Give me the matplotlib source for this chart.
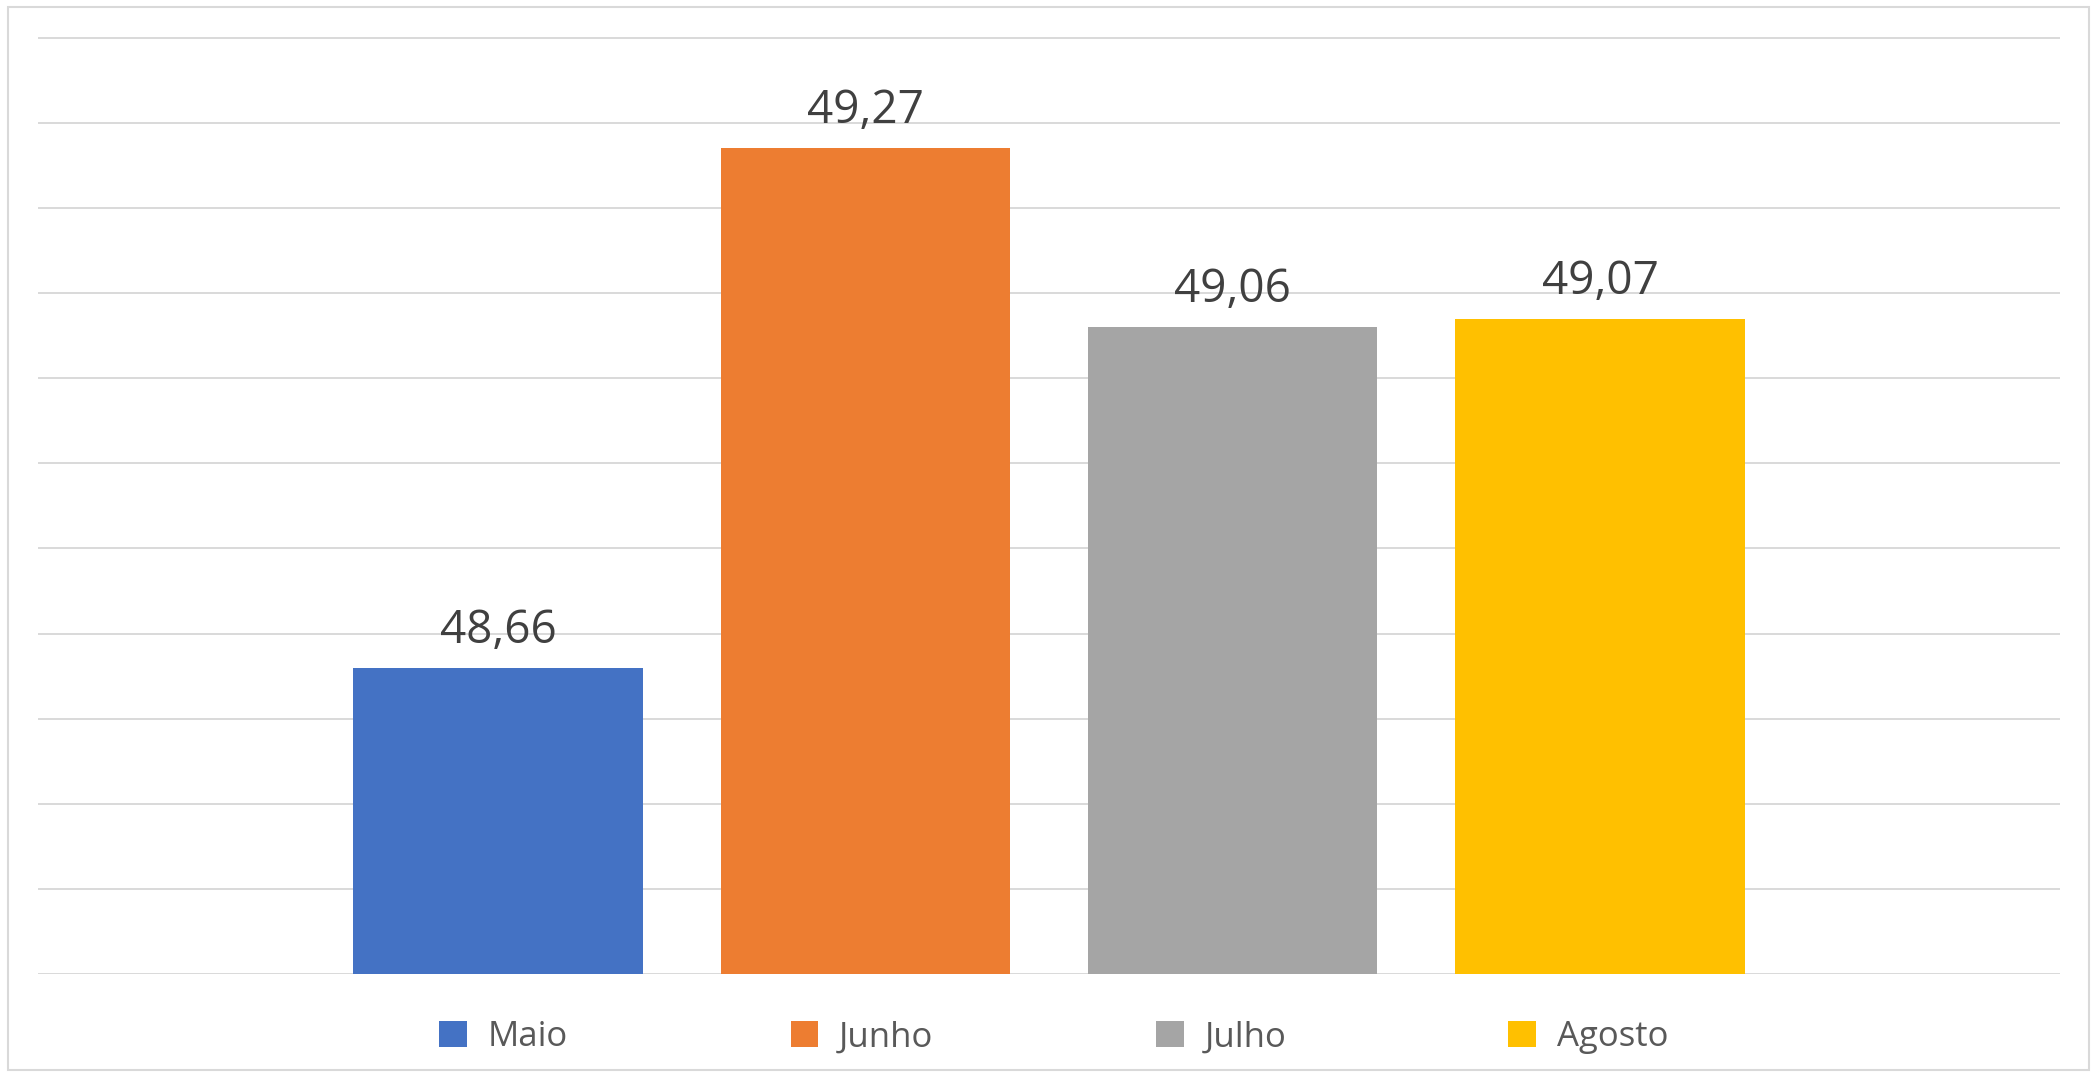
import matplotlib.pyplot as plt
import numpy as np
from matplotlib.patches import Patch, Rectangle

# data
months = ["Maio", "Junho", "Julho", "Agosto"]
values = [48.66, 49.27, 49.06, 49.07]
colors = ["#4472C4", "#ED7D31", "#A5A5A5", "#FFC000"]
y_min, y_max, y_step = 48.3, 49.4, 0.1

plt.rcParams['font.family'] = ['Open Sans', 'DejaVu Sans']

fig = plt.figure(figsize=(20.98, 10.77), dpi=100)
ax = fig.add_axes([0.0181, 0.0956, 0.9638, 0.871])

x = np.arange(len(months))
bars = ax.bar(x, values, width=0.788, color=colors, zorder=3)

ax.set_xlim(-1.252, len(months) - 1 + 1.252)
ax.set_ylim(y_min, y_max + 0.002)
ax.set_yticks(np.arange(y_min, y_max + y_step / 2, y_step))
ax.yaxis.grid(True, color="#d9d9d9", linewidth=1.4, zorder=0)
ax.set_xticks([])
ax.tick_params(axis='y', length=0, labelleft=False)
for s in ax.spines.values():
    s.set_visible(False)

ax.bar_label(bars, labels=[f"{v:.2f}".replace('.', ',') for v in values],
             padding=10, fontsize=33, color="#404040")

handles = [Patch(facecolor=c, edgecolor='none') for c in colors]
fig.legend(handles, months, loc='center', bbox_to_anchor=(0.5024, 0.037),
           ncol=4, frameon=False, fontsize=25, labelcolor="#595959",
           handlelength=0.8, handleheight=0.8, handletextpad=0.6,
           columnspacing=6.4)

# chart border
fig.add_artist(Rectangle((8 / 2098, 7 / 1077), 2081 / 2098, 1063 / 1077,
                         transform=fig.transFigure, fill=False,
                         edgecolor="#d9d9d9", linewidth=1.5))

fig.savefig("out.png", dpi=100)
